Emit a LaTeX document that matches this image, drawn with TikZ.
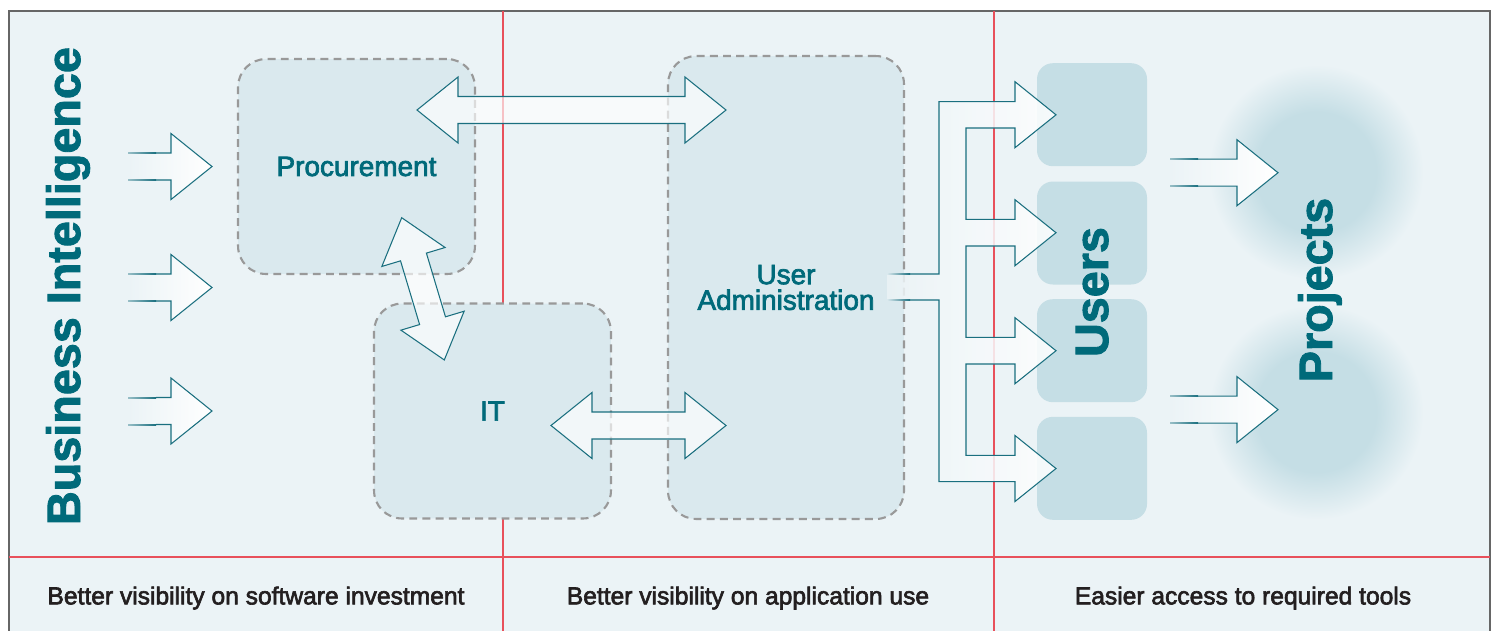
\documentclass[tikz,border=0pt]{standalone}
\usepackage{fontspec}
\setmainfont{Liberation Sans}
\usetikzlibrary{calc}
\definecolor{bgc}{HTML}{EBF3F6}
\definecolor{boxc}{HTML}{DAE9EE}
\definecolor{userc}{HTML}{C5DEE5}
\definecolor{tealt}{HTML}{006A7A}
\definecolor{tealo}{HTML}{1A6F7F}
\definecolor{redl}{HTML}{E8505B}
\definecolor{dashc}{HTML}{999999}
\definecolor{capc}{HTML}{231F20}
\newcommand\heavy[2]{\special{pdf:literal direct 2 Tr #1 w}#2\special{pdf:literal direct 0 Tr}}
\pgfdeclareradialshading{glow}{\pgfpoint{0bp}{0bp}}{color(0bp)=(userc); color(14bp)=(userc); color(25bp)=(bgc); color(50bp)=(bgc)}
\tikzset{
  dbox/.style={draw=dashc, line width=1.2pt, dash pattern=on 4.5pt off 3pt, fill=boxc,
    rounded corners=16pt, inner sep=0pt},
  ubox/.style={fill=userc, rounded corners=9pt, inner sep=0pt, minimum width=2.2cm, minimum height=2.06cm},
  arrline/.style={draw=tealo, line width=0.6pt, line join=miter},
  arrfill/.style={fill=white, fill opacity=0.65},
  lbl/.style={text=tealt, font=\fontsize{15.9}{14.6}\selectfont, align=center},
  big/.style={text=tealt, font=\bfseries\fontsize{26.6}{30}\selectfont, rotate=90, anchor=base, inner sep=0pt},
  captext/.style={text=capc, font=\fontsize{14}{17}\selectfont},
  redline/.style={draw=redl, line width=0.6pt},
  glowc/.style={circle, shading=glow, minimum size=4.3cm, inner sep=0pt},
}
\newcommand\sarr[3]{%
  \shade[left color=bgc,right color=white] (#1,{#2-13.5}) -- ({#3-41},{#2-13.5}) -- ({#3-41},{#2-33}) -- (#3,#2) -- ({#3-41},{#2+33}) -- ({#3-41},{#2+13.5}) -- (#1,{#2+13.5}) -- cycle;
  \draw[arrline] ({#1+28},{#2-13.5}) -- ({#3-41},{#2-13.5}) -- ({#3-41},{#2-33}) -- (#3,#2) -- ({#3-41},{#2+33}) -- ({#3-41},{#2+13.5}) -- ({#1+28},{#2+13.5});
  \shade[left color=bgc!60!tealo,right color=tealo] (#1,{#2-13.5-0.5}) rectangle ({#1+28},{#2-13.5+0.5});
  \shade[left color=bgc!60!tealo,right color=tealo] (#1,{#2+13.5-0.5}) rectangle ({#1+28},{#2+13.5+0.5});
}
\newcommand\darr[3]{%
  \begin{scope}[shift={#1}, rotate=#2]
  \path[arrline, arrfill] (0,0) -- (41,-33) -- (41,-13.5) -- ({#3-41},-13.5) -- ({#3-41},-33) -- (#3,0) -- ({#3-41},33) -- ({#3-41},13.5) -- (41,13.5) -- (41,33) -- cycle;
  \end{scope}}
\begin{document}
\begin{tikzpicture}[x=0.02cm,y=-0.02cm]
\useasboundingbox (0,0) rectangle (1496,630);
\clip (0,0) rectangle (1496,630);
% frame
\draw[fill=bgc, draw=black!60, line width=0.7pt] (9,11) rectangle (1490,660);
% red lines
\draw[redline] (9,557) -- (1490,557);
\draw[redline] (503,11) -- (503,640);
\draw[redline] (994,11) -- (994,640);
% glows
\node[glowc] (g1) at (1316,172) {};
\node[glowc] (g2) at (1316,412) {};
% dashed boxes
\node[dbox, minimum width=4.74cm, minimum height=4.3cm, lbl] (proc) at (356.5,166.5) {\heavy{0.4}{Procurement}};
\node[dbox, minimum width=4.74cm, minimum height=4.3cm, lbl] (it) at (492.5,411) {\heavy{0.4}{IT}};
\node[dbox, minimum width=4.72cm, minimum height=9.26cm, lbl] (ua) at (786,287.5) {\heavy{0.4}{User}\\\heavy{0.4}{Administration}};
% user boxes
\node[ubox] (u1) at (1092,114.7) {};
\node[ubox] (u2) at (1092,233) {};
\node[ubox] (u3) at (1092,350.7) {};
\node[ubox] (u4) at (1092,468.3) {};
% input arrows
\sarr{128}{166.5}{212}
\sarr{128}{287.5}{212}
\sarr{128}{411}{212}
% project arrows
\sarr{1170}{172.7}{1278}
\sarr{1170}{409.6}{1278}
% double arrows
\darr{(417,110)}{0}{309}
\darr{(551,425.5)}{0}{175}
\darr{(401.7,217.7)}{-73.33}{148.5}
% fork
\shade[left color=bgc, right color=white, opacity=0.85]
  (887,274) -- (939,274) -- (939,101.7) -- (1015,101.7) -- (1015,81.7) -- (1056,114.8) -- (1015,147.7) -- (1015,128)
  -- (966,128) -- (966,219.3) -- (1015,219.3) -- (1015,199.7) -- (1056,232.7) -- (1015,265.7) -- (1015,246)
  -- (966,246) -- (966,337.3) -- (1015,337.3) -- (1015,317.7) -- (1056,350.7) -- (1015,383.7) -- (1015,364)
  -- (966,364) -- (966,455.3) -- (1015,455.3) -- (1015,435.5) -- (1056,468.5) -- (1015,501.5) -- (1015,481.7)
  -- (939,481.7) -- (939,300) -- (887,300) -- cycle;
\draw[arrline]
  (910,274) -- (939,274) -- (939,101.7) -- (1015,101.7) -- (1015,81.7) -- (1056,114.8) -- (1015,147.7) -- (1015,128)
  -- (966,128) -- (966,219.3) -- (1015,219.3) -- (1015,199.7) -- (1056,232.7) -- (1015,265.7) -- (1015,246)
  -- (966,246) -- (966,337.3) -- (1015,337.3) -- (1015,317.7) -- (1056,350.7) -- (1015,383.7) -- (1015,364)
  -- (966,364) -- (966,455.3) -- (1015,455.3) -- (1015,435.5) -- (1056,468.5) -- (1015,501.5) -- (1015,481.7)
  -- (939,481.7) -- (939,300) -- (910,300);
\shade[left color=boxc,right color=tealo] (887,273.5) rectangle (910,274.5);
\shade[left color=boxc,right color=tealo] (887,299.5) rectangle (910,300.5);
% big labels
\node[big] (bi) at (80,286) {\heavy{0.5}{Business Intelligence}};
\node[big] (users) at (1108,292) {\heavy{0.5}{Users}};
\node[big] (proj) at (1332,290) {\heavy{0.5}{Projects}};
% captions
\node[captext] (c1) at (256,598) {\heavy{0.35}{Better visibility on software investment}};
\node[captext] (c2) at (748,598) {\heavy{0.35}{Better visibility on application use}};
\node[captext] (c3) at (1243,598) {\heavy{0.35}{Easier access to required tools}};
\end{tikzpicture}
\end{document}
